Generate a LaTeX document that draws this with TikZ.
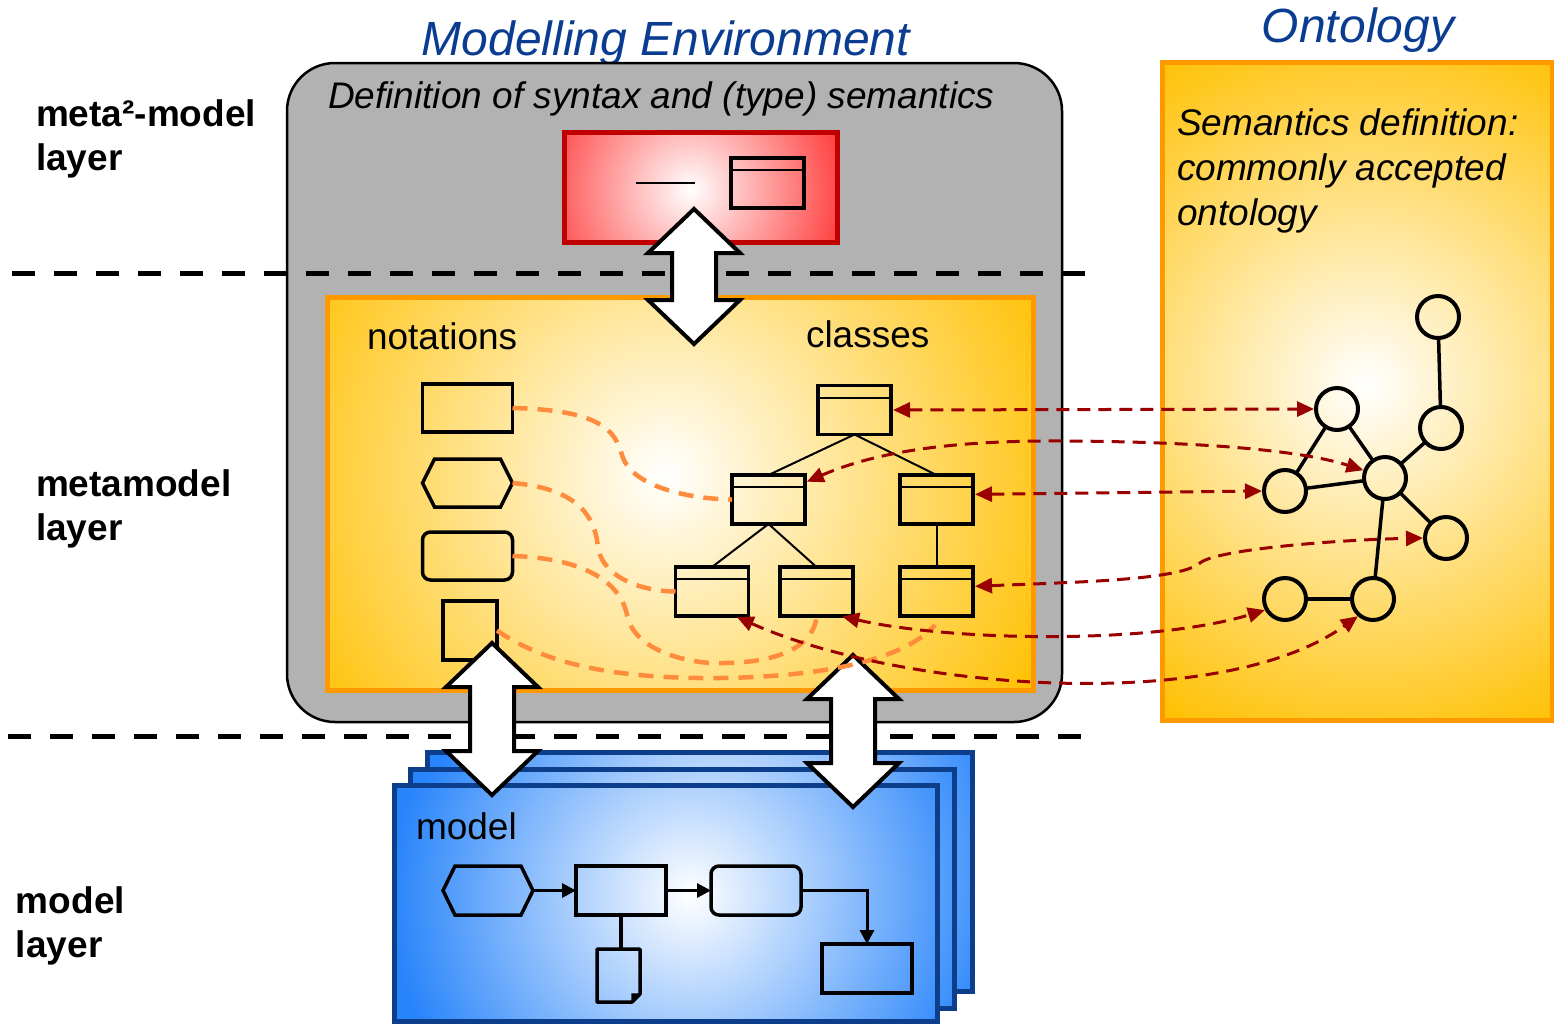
\documentclass[tikz,border=0pt]{standalone}
\usepackage{fontspec}
\setmainfont{Liberation Sans}
\usetikzlibrary{arrows.meta,calc}
\definecolor{titleblue}{RGB}{10,61,145}
\definecolor{grayfill}{RGB}{178,178,178}
\definecolor{orgborder}{RGB}{255,153,0}
\definecolor{orgouter}{RGB}{255,192,0}
\definecolor{redborder}{RGB}{192,0,0}
\definecolor{redouter}{RGB}{255,64,64}
\definecolor{blueborder}{RGB}{12,62,140}
\definecolor{blueouter}{RGB}{40,132,250}
\definecolor{linkred}{RGB}{153,0,0}
\definecolor{linkorange}{RGB}{255,140,60}
\newcommand\mydblarrow[3]{\draw[bigarrow] ({#1},{#2}) -- ({#1+46},{#2+44}) -- ({#1+22},{#2+44}) -- ({#1+22},{#3-44}) -- ({#1+46},{#3-44}) -- ({#1},{#3}) -- ({#1-46},{#3-44}) -- ({#1-22},{#3-44}) -- ({#1-22},{#2+44}) -- ({#1-46},{#2+44}) -- cycle;}
\begin{document}
\begin{tikzpicture}[x=1pt,y=-1pt,
  every node/.style={inner sep=0pt, outer sep=0pt},
  txt/.style={font=\fontsize{37}{44}\selectfont, anchor=base west},
  itxt/.style={font=\itshape\fontsize{37}{44}\selectfont, anchor=base west},
  btxt/.style={font=\bfseries\fontsize{37}{44}\selectfont, anchor=base west},
  title/.style={font=\itshape\fontsize{48}{56}\selectfont, text=titleblue, anchor=base},
  envbox/.style={draw=black, line width=2.5pt, fill=grayfill, rounded corners=48pt, anchor=north west},
  gradbox/.style n args={3}{path picture={\fill[#1] (path picture bounding box.south west) rectangle (path picture bounding box.north east); \shade[inner color=white, outer color=#1] (#2) circle (#3);}},
  redbox/.style={draw=redborder, line width=5pt, anchor=north west},
  orgbox/.style={draw=orgborder, line width=5pt, anchor=north west},
  bluebox/.style={draw=blueborder, line width=5pt, anchor=north west},
  layerdash/.style={draw=black, line width=5pt, dash pattern=on 23pt off 19pt},
  shapeline/.style={draw=black, line width=3.5pt},
  classbox/.style={shapeline, rectangle, minimum width=73pt, minimum height=49pt,
    path picture={\draw[line width=2pt] ([yshift=-12pt]path picture bounding box.north west) -- ([yshift=-12pt]path picture bounding box.north east);}},
  classedge/.style={draw=black, line width=2pt},
  gnode/.style={circle, draw=black, line width=4pt, minimum size=42pt},
  gedge/.style={draw=black, line width=3.5pt},
  bigarrow/.style={draw=black, fill=white, line width=4pt, line join=miter},
  modelarrow/.style={draw=black, line width=3pt, -{Triangle[length=14pt,width=14pt]}},
  orangelink/.style={draw=linkorange, line width=4.5pt, dash pattern=on 15pt off 10pt},
  linkarrow/.style={draw=linkred, line width=3pt, dash pattern=on 13pt off 8pt, <->, >={Triangle[length=17pt,width=15pt]}, shorten <=2pt, shorten >=2pt}
]
\useasboundingbox (0,0) rectangle (1554,1023);

% gradient centres
\coordinate (gred) at (690,190);
\coordinate (gorg) at (665,475);
\coordinate (gont) at (1365,385);
\coordinate (gb3) at (720,865);
\coordinate (gb2) at (705,882);
\coordinate (gb1) at (690,895);

% titles
\node[title] (envtitle) at (666,55) {Modelling Environment};
\node[title] (onttitle) at (1358,42) {Ontology};

% layer labels
\node[btxt] (l1a) at (36,126) {meta²-model};
\node[btxt] (l1b) at (36,170) {layer};
\node[btxt] (l2a) at (36,496) {metamodel};
\node[btxt] (l2b) at (36,540) {layer};
\node[btxt] (l3a) at (16,913) {model};
\node[btxt] (l3b) at (16,957) {layer};

% modelling environment
\node[envbox, minimum width=775pt, minimum height=659pt] (env) at (287,63) {};
\node[itxt] (deftxt) at (328,108) {Definition of syntax and (type) semantics};

% layer separators
\coordinate (d1a) at (12,273); \coordinate (d1b) at (1088,273);
\coordinate (d2a) at (8,736);  \coordinate (d2b) at (1085,736);
\draw[layerdash] (d1a) -- (d1b);
\draw[layerdash] (d2a) -- (d2b);

% meta2 box
\node[redbox, gradbox={redouter}{gred}{155pt}, minimum width=273pt, minimum height=110pt] (meta2) at (564,132) {};
\coordinate (rl1) at (636,183); \coordinate (rl2) at (695,183);
\draw[line width=2pt] (rl1) -- (rl2);
\node[classbox, minimum height=50pt] (mc) at (767.5,183) {};

% metamodel box
\node[orgbox, gradbox={orgouter}{gorg}{430pt}, minimum width=706pt, minimum height=393pt] (meta) at (327,297) {};
\node[txt] (nottxt) at (367,349) {notations};
\node[txt] (clstxt) at (806,347) {classes};

% notations
\node[shapeline, rectangle, minimum width=90pt, minimum height=48pt] (n1) at (467.5,408) {};
\node[minimum width=90pt, minimum height=48pt] (n2) at (467.5,483) {};
\draw[shapeline] (n2.west) -- ([xshift=12pt]n2.north west) -- ([xshift=-12pt]n2.north east) -- (n2.east) -- ([xshift=-12pt]n2.south east) -- ([xshift=12pt]n2.south west) -- cycle;
\node[shapeline, rectangle, rounded corners=8pt, minimum width=90pt, minimum height=48pt] (n3) at (467.5,556) {};
\node[shapeline, rectangle, minimum width=54pt, minimum height=59pt] (n4) at (470,630.5) {};

% classes
\node[classbox] (c1) at (854.5,410) {};
\node[classbox] (c2) at (768.5,499.5) {};
\node[classbox] (c3) at (936.5,499.5) {};
\node[classbox] (c4) at (712,591.5) {};
\node[classbox] (c5) at (816.5,591.5) {};
\node[classbox] (c6) at (936.5,591.5) {};
\draw[classedge] (c1.south) -- (c2.north);
\draw[classedge] (c1.south) -- (c3.north);
\draw[classedge] (c2.south) -- (c4.north);
\draw[classedge] (c2.south) -- (c5.north);
\draw[classedge] (c3.south) -- (c6.north);

% ontology box
\node[orgbox, gradbox={orgouter}{gont}{390pt}, minimum width=390pt, minimum height=658pt] (ont) at (1162,62) {};
\node[itxt] (sem1) at (1177,135) {Semantics definition:};
\node[itxt] (sem2) at (1177,180) {commonly accepted};
\node[itxt] (sem3) at (1177,225) {ontology};

\node[gnode] (o1) at (1438,317) {};
\node[gnode] (o2) at (1441,428) {};
\node[gnode] (o3) at (1337,409) {};
\node[gnode] (o4) at (1385,478) {};
\node[gnode] (o5) at (1285,491) {};
\node[gnode] (o6) at (1446,538) {};
\node[gnode] (o7) at (1285,599) {};
\node[gnode] (o8) at (1373,599) {};
\draw[gedge] (o1) -- (o2);
\draw[gedge] (o2) -- (o4);
\draw[gedge] (o3) -- (o4);
\draw[gedge] (o3) -- (o5);
\draw[gedge] (o5) -- (o4);
\draw[gedge] (o4) -- (o6);
\draw[gedge] (o4) -- (o8);
\draw[gedge] (o7) -- (o8);

% model stack
\node[bluebox, gradbox={blueouter}{gb3}{300pt}, minimum width=545pt, minimum height=239pt] (mod3) at (427,752) {};
\node[bluebox, gradbox={blueouter}{gb2}{300pt}, minimum width=544pt, minimum height=239pt] (mod2) at (410,769) {};
\node[bluebox, gradbox={blueouter}{gb1}{300pt}, minimum width=543pt, minimum height=236pt] (mod1) at (394,785) {};
\node[txt] (modtxt) at (416,839) {model};

\node[minimum width=90pt, minimum height=49pt] (m1) at (488,890.5) {};
\draw[shapeline] (m1.west) -- ([xshift=12pt]m1.north west) -- ([xshift=-12pt]m1.north east) -- (m1.east) -- ([xshift=-12pt]m1.south east) -- ([xshift=12pt]m1.south west) -- cycle;
\node[shapeline, rectangle, minimum width=90pt, minimum height=49pt] (m2) at (621,890.5) {};
\node[shapeline, rectangle, rounded corners=8pt, minimum width=90pt, minimum height=49pt] (m3) at (756,890.5) {};
\node[shapeline, rectangle, minimum width=90pt, minimum height=49pt] (m4) at (867,968.5) {};
\node[minimum width=43pt, minimum height=53pt] (m5) at (618.5,975.5) {};
\draw[shapeline, line join=round] (m5.north west) -- (m5.north east) -- ([yshift=8pt]m5.south east) -- ([xshift=-8pt]m5.south east) -- (m5.south west) -- cycle;
\draw[line width=1.5pt, fill=black] ([yshift=8pt]m5.south east) -- ([xshift=-8pt,yshift=8pt]m5.south east) -- ([xshift=-8pt]m5.south east) -- cycle;
\draw[modelarrow] (m1.east) -- (m2.west);
\draw[modelarrow] (m2.east) -- (m3.west);
\draw[modelarrow] (m3.east) -| (m4.north);
\draw[shapeline] (m2.south) -- (m2.south |- m5.north);

% big double arrows between layers
\mydblarrow{694}{209}{344}
\mydblarrow{492}{643}{795}
\mydblarrow{853}{655}{807}

% notation-class links
\coordinate (c6end) at (935,625);
\draw[orangelink] (n1.east) .. controls (600,410) and (615,430) .. (622,455) .. controls (632,490) and (700,499.5) .. (c2.west);
\draw[orangelink] (n2.east) .. controls (570,488) and (595,510) .. (598,548) .. controls (605,582) and (650,591.5) .. (c4.west);
\draw[orangelink] (n3.east) .. controls (580,558) and (620,580) .. (627,615) .. controls (635,655) and (700,665) .. (725,663) .. controls (790,662) and (815,640) .. (c5.south);
\draw[orangelink] (n4.east) .. controls (540,660) and (600,677) .. (700,678) .. controls (800,679) and (900,665) .. (c6end);

% class-ontology links
\draw[linkarrow] (c1.east) -- (o3.west);
\draw[linkarrow] (c2.25) .. controls (880,450) and (960,440) .. (1070,441) .. controls (1200,442) and (1300,450) .. (o4.160);
\draw[linkarrow] (c3.8) -- (o5.west);
\draw[linkarrow] (c6.8) .. controls (1080,582) and (1180,580) .. (1200,563) .. controls (1215,550) and (1330,540) .. (o6.west);
\draw[linkarrow] (c5.-46) .. controls (950,641) and (1150,645) .. (o7.210);
\draw[linkarrow] (c4.-47) .. controls (900,690) and (1220,715) .. (o8.230);
\end{tikzpicture}
\end{document}
